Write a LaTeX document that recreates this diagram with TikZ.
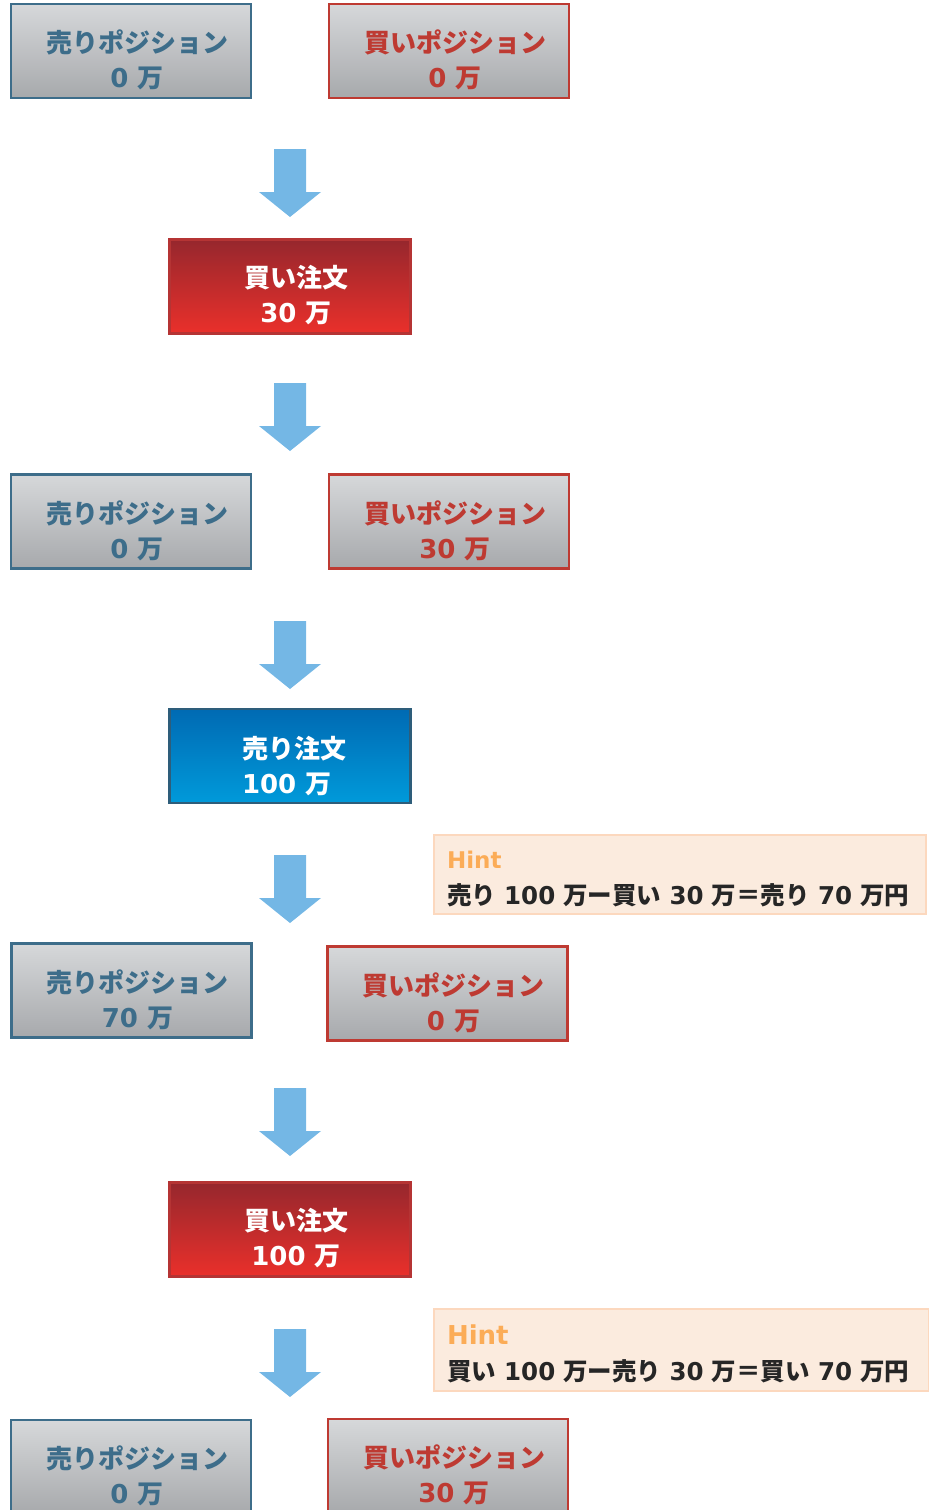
\documentclass[tikz,border=0pt]{standalone}
\usepackage{fontspec}
\setmainfont{Noto Sans CJK JP}
\newfontfamily\lat{DejaVu Sans}
\newcommand{\dg}[1]{{\lat #1}}

\definecolor{sellline}{HTML}{3D6D8A}
\definecolor{buyline}{HTML}{BE3A32}
\definecolor{postop}{HTML}{D6D8DA}
\definecolor{posbot}{HTML}{A7A9AC}
\definecolor{bordtop}{HTML}{96272D}
\definecolor{bordbot}{HTML}{EA302B}
\definecolor{bordline}{HTML}{B53434}
\definecolor{sordtop}{HTML}{006AB3}
\definecolor{sordbot}{HTML}{009ADA}
\definecolor{sordline}{HTML}{2E5D7A}
\definecolor{arrowc}{HTML}{74B7E5}
\definecolor{hintfill}{HTML}{FBEBDE}
\definecolor{hintline}{HTML}{FCD8BE}
\definecolor{hintc}{HTML}{FBAC57}
\definecolor{hinttext}{HTML}{262626}

\begin{document}
\begin{tikzpicture}[x=1pt,y=1pt,
  box/.style={draw,line width=2.5,minimum width=240,minimum height=94,inner sep=0},
  txt/.style={font=\bfseries\fontsize{26}{35}\selectfont,align=center,shift={(6,-9)}},
  sellpos/.style={box,draw=sellline,top color=postop,bottom color=posbot},
  buypos/.style={box,draw=buyline,top color=postop,bottom color=posbot},
  buyord/.style={box,minimum width=241,draw=bordline,top color=bordtop,bottom color=bordbot},
  sellord/.style={box,minimum width=241,draw=sordline,top color=sordtop,bottom color=sordbot},
  hint/.style={draw=hintline,fill=hintfill,line width=2,anchor=north west,align=left,
    inner xsep=13,inner ysep=0,text=hinttext,font=\bfseries\fontsize{24.5}{36}\selectfont}]
\useasboundingbox (0,0) rectangle (929,-1510);

% positions and orders
\node[sellpos,label={[txt,text=sellline]center:売りポジション\\\dg{0 }万}] (sp1) at (131,-51) {};
\node[buypos,label={[txt,text=buyline]center:買いポジション\\\dg{0 }万}] (bp1) at (449,-51) {};
\node[buyord,label={[txt,text=white]center:買い注文\\\dg{30 }万}] (bo1) at (290,-286.5) {};
\node[sellpos,label={[txt,text=sellline]center:売りポジション\\\dg{0 }万}] (sp2) at (131,-521.5) {};
\node[buypos,label={[txt,text=buyline]center:買いポジション\\\dg{30 }万}] (bp2) at (449,-521.5) {};
\node[sellord,label={[txt,text=white,align=left,shift={(-2,-1)}]center:売り注文\\\dg{100 }万}] (so1) at (290,-756) {};
\node[sellpos,label={[txt,text=sellline]center:売りポジション\\\dg{70 }万}] (sp3) at (131.5,-990.5) {};
\node[buypos,label={[txt,text=buyline]center:買いポジション\\\dg{0 }万}] (bp3) at (447.5,-993.5) {};
\node[buyord,label={[txt,text=white]center:買い注文\\\dg{100 }万}] (bo2) at (290,-1229.5) {};
\node[sellpos,label={[txt,text=sellline]center:売りポジション\\\dg{0 }万}] (sp4) at (131,-1467) {};
\node[buypos,label={[txt,text=buyline]center:買いポジション\\\dg{30 }万}] (bp4) at (448,-1466) {};

% hints
\node[hint,text width=466,minimum height=79] (h1) at (433,-834)
  {\rule{0pt}{26pt}{\color{hintc}\lat\fontsize{23}{36}\selectfont Hint}\\売り\dg{ 100 }万ー買い\dg{ 30 }万＝売り\dg{ 70 }万円};
\node[hint,text width=469,minimum height=82] (h2) at (433,-1308)
  {\rule{0pt}{28pt}{\color{hintc}\lat\fontsize{26}{36}\selectfont Hint}\\買い\dg{ 100 }万ー売り\dg{ 30 }万＝買い\dg{ 70 }万円};

% down arrows
\foreach \y in {149,383,621,855,1088,1329}
  \fill[arrowc] (274,-\y) -- (306,-\y) -- (306,-\y-43) -- (321,-\y-43)
    -- (290,-\y-68) -- (259,-\y-43) -- (274,-\y-43) -- cycle;
\end{tikzpicture}
\end{document}
